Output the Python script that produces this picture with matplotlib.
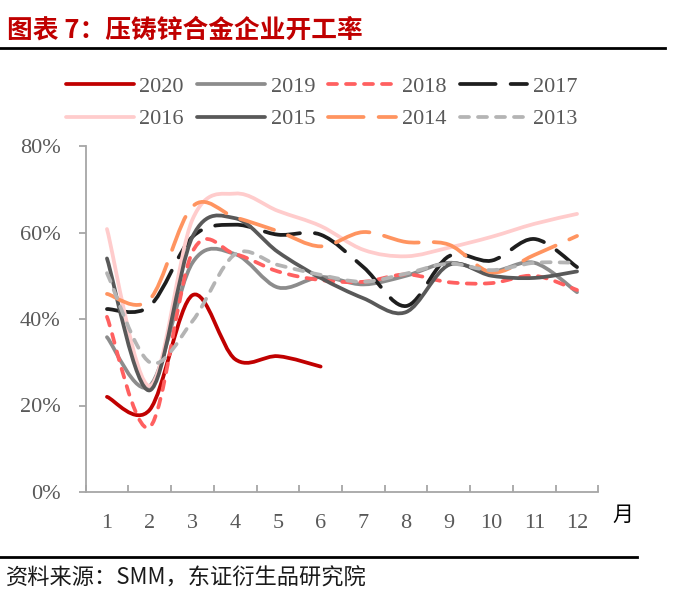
import matplotlib
matplotlib.use("Agg")
import matplotlib.pyplot as plt
from matplotlib.path import Path
from matplotlib.patches import PathPatch
from matplotlib.lines import Line2D
import numpy as np

plt.rcParams['font.family'] = ['Liberation Serif', 'Noto Sans CJK SC', 'DejaVu Sans']

months = list(range(1, 13))
month_labels = [str(m) for m in months]

y2020 = [22.0, 19.0, 45.5, 30.7, 31.4, 29.0]
y2019 = [35.8, 24.5, 53.0, 55.0, 47.3, 49.7, 48.0, 50.0, 53.0, 51.0, 53.0, 46.2]
y2018 = [40.5, 15.0, 55.5, 55.0, 51.0, 49.0, 48.6, 50.3, 48.5, 48.3, 50.0, 46.7]
y2017 = [42.3, 43.0, 59.0, 61.8, 59.5, 59.5, 52.0, 43.0, 54.5, 53.5, 58.5, 52.0]
y2016 = [60.8, 24.5, 63.0, 69.0, 65.0, 61.5, 56.0, 54.5, 56.5, 59.0, 62.0, 64.3]
y2015 = [54.0, 23.5, 59.0, 63.3, 55.5, 49.5, 44.8, 41.6, 52.5, 50.0, 49.5, 51.0]
y2014 = [45.8, 44.5, 66.0, 63.5, 60.3, 56.8, 60.1, 57.8, 57.2, 50.8, 54.8, 59.2]
y2013 = [50.6, 30.0, 39.5, 55.0, 52.5, 50.2, 48.6, 50.5, 52.8, 51.3, 53.0, 53.0]

short_dash = (0, (2.4, 2.4))
long_dash = (0, (9.5, 4.0))

# year, values, colour, linestyle
series = [
    ("2020", y2020, "#c00000", "-"),
    ("2019", y2019, "#8c8c8c", "-"),
    ("2018", y2018, "#ff6060", short_dash),
    ("2017", y2017, "#1e1e1e", long_dash),
    ("2016", y2016, "#ffcccc", "-"),
    ("2015", y2015, "#595959", "-"),
    ("2014", y2014, "#ff9460", long_dash),
    ("2013", y2013, "#b4b4b4", short_dash),
]
LW = 2.7


def smooth_path(xs, ys):
    """Excel-like smoothed line: Catmull-Rom segments as cubic beziers."""
    p = np.column_stack([xs, ys]).astype(float)
    ext = np.vstack([p[0], p, p[-1]])
    verts = [p[0]]
    codes = [Path.MOVETO]
    for i in range(len(p) - 1):
        p0, p1, p2, p3 = ext[i], ext[i + 1], ext[i + 2], ext[i + 3]
        verts += [p1 + (p2 - p0) / 6, p2 - (p3 - p1) / 6, p2]
        codes += [Path.CURVE4] * 3
    return Path(verts, codes)


fig = plt.figure(figsize=(6.82, 6.10), dpi=100)
ax = fig.add_axes([85.6 / 682, 1 - 492 / 610, (598.4 - 85.6) / 682, (492 - 146) / 610])

handles = {}
for name, vals, color, ls in series:
    patch = PathPatch(smooth_path(months[:len(vals)], vals), facecolor="none",
                      edgecolor=color, linewidth=LW, linestyle=ls,
                      capstyle="round", joinstyle="round")
    ax.add_patch(patch)
    h = Line2D([], [], color=color, linewidth=LW, linestyle=ls,
               dash_capstyle="round", solid_capstyle="round")
    handles[name] = h

ax.set_xlim(0.5, 12.5)
ax.set_ylim(0, 80)
ax.set_yticks([0, 20, 40, 60, 80])
ax.set_yticklabels([f"{v}%" for v in [0, 20, 40, 60, 80]])
ax.set_xticks(months)
ax.set_xticklabels(month_labels)
ax.set_xticks(np.arange(0.5, 13, 1), minor=True)

for s in ["top", "right"]:
    ax.spines[s].set_visible(False)
for s in ["left", "bottom"]:
    ax.spines[s].set_color("#a6a6a6")
    ax.spines[s].set_linewidth(1.3)

ax.tick_params(axis="y", direction="out", length=5, width=1.3, color="#a6a6a6",
               labelsize=16, labelcolor="#595959", pad=13)
ax.tick_params(axis="x", which="major", length=0, labelsize=16,
               labelcolor="#595959", pad=16)
ax.tick_params(axis="x", which="minor", direction="in", length=5, width=1.3,
               color="#a6a6a6")

order = ["2020", "2016", "2019", "2015", "2018", "2014", "2017", "2013"]
fig.legend([handles[k] for k in order], order, ncol=4, loc="upper left",
           bbox_to_anchor=(66 / 682, 1 - 76 / 610), frameon=False,
           fontsize=16, labelcolor="#595959", handlelength=3.05,
           handletextpad=0.25, columnspacing=0.6, labelspacing=0.55,
           borderpad=0, borderaxespad=0)

fig.text(623 / 682, 1 - 515 / 610, "月", fontsize=15, color="black",
         ha="center", va="center", family=["Noto Sans CJK SC"])

fig.text(7 / 682, 1 - 30 / 610, "图表 7：压铸锌合金企业开工率", fontsize=18.5,
         color="#c00000", fontweight="bold", ha="left", va="center",
         family=["Noto Sans CJK SC"])
fig.add_artist(Line2D([0, 665 / 682], [1 - 48 / 610, 1 - 48 / 610],
                      color="black", linewidth=2))
fig.add_artist(Line2D([0, 637 / 682], [1 - 557 / 610, 1 - 557 / 610],
                      color="black", linewidth=2))
fig.text(6 / 682, 1 - 578 / 610, "资料来源：SMM，东证衍生品研究院", fontsize=16,
         color="#1a1a1a", ha="left", va="center",
         family=["Noto Sans CJK SC"])

fig.savefig("out.png", dpi=100)
